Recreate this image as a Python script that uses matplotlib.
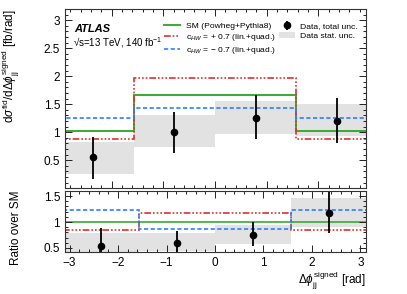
import numpy as np
import matplotlib
matplotlib.use('Agg')
import matplotlib.pyplot as plt
from matplotlib.ticker import MultipleLocator, FuncFormatter
from matplotlib.lines import Line2D
from matplotlib.patches import Patch

# ---------------- data ----------------
bin_edges = [-np.pi, -np.pi / 2, 0.0, np.pi / 2, np.pi]
sm = [1.03, 1.67, 1.67, 1.03]
chw_plus = [0.88, 1.97, 1.97, 0.88]
chw_minus = [1.26, 1.43, 1.43, 1.26]
data_x = [-3 * np.pi / 4, -np.pi / 4, np.pi / 4, 3 * np.pi / 4]
data_y = [0.55, 1.00, 1.26, 1.21]
data_lo = [0.17, 0.63, 0.88, 0.81]
data_hi = [0.92, 1.37, 1.66, 1.62]
stat_lo = [0.26, 0.73, 0.97, 0.93]
stat_hi = [0.82, 1.30, 1.56, 1.50]
xticks = [-3, -2, -1, 0, 1, 2, 3]
main_yticks = [0.5, 1, 1.5, 2, 2.5, 3]
ratio_yticks = [0.5, 1, 1.5]

# ---------------- style ----------------
plt.rcParams['font.family'] = ['Liberation Sans', 'DejaVu Sans']
plt.rcParams['mathtext.fontset'] = 'custom'
plt.rcParams['mathtext.rm'] = 'Liberation Sans'
plt.rcParams['mathtext.it'] = 'Liberation Sans:italic'
plt.rcParams['mathtext.bf'] = 'Liberation Sans:bold'
plt.rcParams['axes.linewidth'] = 0.8

GREEN = '#3aaa35'
RED = '#e0302a'
BLUE = '#2b7fff'
GRAY = '#e2e2e2'
red_dash = (0, (4, 1.2, 1, 1.2, 1, 1.2, 1, 1.2))
blue_dash = (0, (2.5, 1.5))

fig = plt.figure(figsize=(4.07, 2.94), dpi=100)
ax = fig.add_axes([0.1597, 0.3595, 0.7396, 0.6099])
rax = fig.add_axes([0.1597, 0.1429, 0.7396, 0.2075])

fmt = FuncFormatter(lambda v, p: ('%g' % v).replace('-', '\u2212'))

# ---------------- main panel ----------------
ax.stairs(stat_hi, bin_edges, baseline=stat_lo, fill=True, color=GRAY, lw=0)
ax.stairs(sm, bin_edges, baseline=None, color=GREEN, lw=1.4)
ax.stairs(chw_plus, bin_edges, baseline=None, color=RED, lw=1.2, linestyle=red_dash)
ax.stairs(chw_minus, bin_edges, baseline=None, color=BLUE, lw=1.2, linestyle=blue_dash)
yerr = [np.array(data_y) - np.array(data_lo), np.array(data_hi) - np.array(data_y)]
ax.errorbar(data_x, data_y, yerr=yerr, fmt='o', color='black', ms=4.5, lw=1.3, capsize=0)

ax.set_xlim(-2.9, 2.92)
ax.set_ylim(0, 3.2)
ax.set_yticks(main_yticks)
ax.yaxis.set_major_formatter(fmt)
ax.yaxis.set_minor_locator(MultipleLocator(0.1))
ax.xaxis.set_major_locator(MultipleLocator(1))
ax.xaxis.set_minor_locator(MultipleLocator(0.2))
ax.tick_params(labelbottom=False)
ax.set_ylabel(r'd$\sigma^{\mathrm{fid}}$/d$\Delta\phi_{\mathrm{jj}}^{\mathrm{signed}}$ [fb/rad]',
              fontsize=8.5, ha='right')
ax.yaxis.set_label_coords(-0.143, 1.0)

ax.text(0.03, 0.89, 'ATLAS', transform=ax.transAxes, fontsize=8, fontweight='bold',
        fontstyle='italic', va='center', ha='left')
ax.text(0.027, 0.81, '\u221as=13 TeV, 140 fb$^{-1}$', transform=ax.transAxes,
        fontsize=7, va='center', ha='left')

handles = [
    Line2D([], [], color=GREEN, lw=1.4),
    Line2D([], [], color=RED, lw=1.2, linestyle=red_dash),
    Line2D([], [], color=BLUE, lw=1.2, linestyle=blue_dash),
    ax.errorbar([], [], yerr=[], fmt='o', color='black', ms=4.5, lw=1.3, capsize=0),
    Patch(facecolor=GRAY, edgecolor='none'),
]
labels = [
    'SM (Powheg+Pythia8)',
    r'c$_{HW}$ = + 0.7 (lin.+quad.)',
    r'c$_{HW}$ = $-$ 0.7 (lin.+quad.)',
    'Data, total unc.',
    'Data stat. unc.',
]
leg = ax.legend(handles, labels, ncol=2, loc='upper left', bbox_to_anchor=(0.33, 0.925),
                frameon=False, fontsize=6.1, handlelength=1.9, handletextpad=0.6,
                columnspacing=0.45, labelspacing=0.2, borderpad=0, borderaxespad=0)

# ---------------- ratio panel ----------------
sm_a = np.array(sm)
rax.stairs(np.array(stat_hi) / sm_a, bin_edges, baseline=np.array(stat_lo) / sm_a,
           fill=True, color=GRAY, lw=0)
rax.stairs(sm_a / sm_a, bin_edges, baseline=None, color=GREEN, lw=1.2)
rax.stairs(np.array(chw_plus) / sm_a, bin_edges, baseline=None, color=RED, lw=1.2,
           linestyle=red_dash)
rax.stairs(np.array(chw_minus) / sm_a, bin_edges, baseline=None, color=BLUE, lw=1.2,
           linestyle=blue_dash)
r_y = np.array(data_y) / sm_a
r_err = [r_y - np.array(data_lo) / sm_a, np.array(data_hi) / sm_a - r_y]
rax.errorbar(data_x, r_y, yerr=r_err, fmt='o', color='black', ms=4.5, lw=1.3, capsize=0)

rax.set_xlim(-3.095, 3.115)
rax.set_ylim(0.42, 1.6)
rax.set_xticks(xticks)
rax.xaxis.set_major_formatter(fmt)
rax.xaxis.set_minor_locator(MultipleLocator(0.2))
rax.set_yticks(ratio_yticks)
rax.yaxis.set_major_formatter(fmt)
rax.yaxis.set_minor_locator(MultipleLocator(0.1))
rax.set_ylabel('Ratio over SM', fontsize=8.5, ha='right')
rax.yaxis.set_label_coords(-0.143, 1.0)
rax.set_xlabel(r'$\Delta\phi_{\mathrm{jj}}^{\mathrm{signed}}$ [rad]', fontsize=8.5, ha='right')
rax.xaxis.set_label_coords(1.0, -0.30)

for a in (ax, rax):
    a.tick_params(which='both', direction='in', top=True, right=True, labelsize=8.5,
                  width=0.7, colors='#222222', labelcolor='black')
    a.tick_params(which='major', length=5)
    a.tick_params(which='minor', length=2.5)
    for s in a.spines.values():
        s.set_color('#333333')

fig.savefig('out.png', dpi=100)
